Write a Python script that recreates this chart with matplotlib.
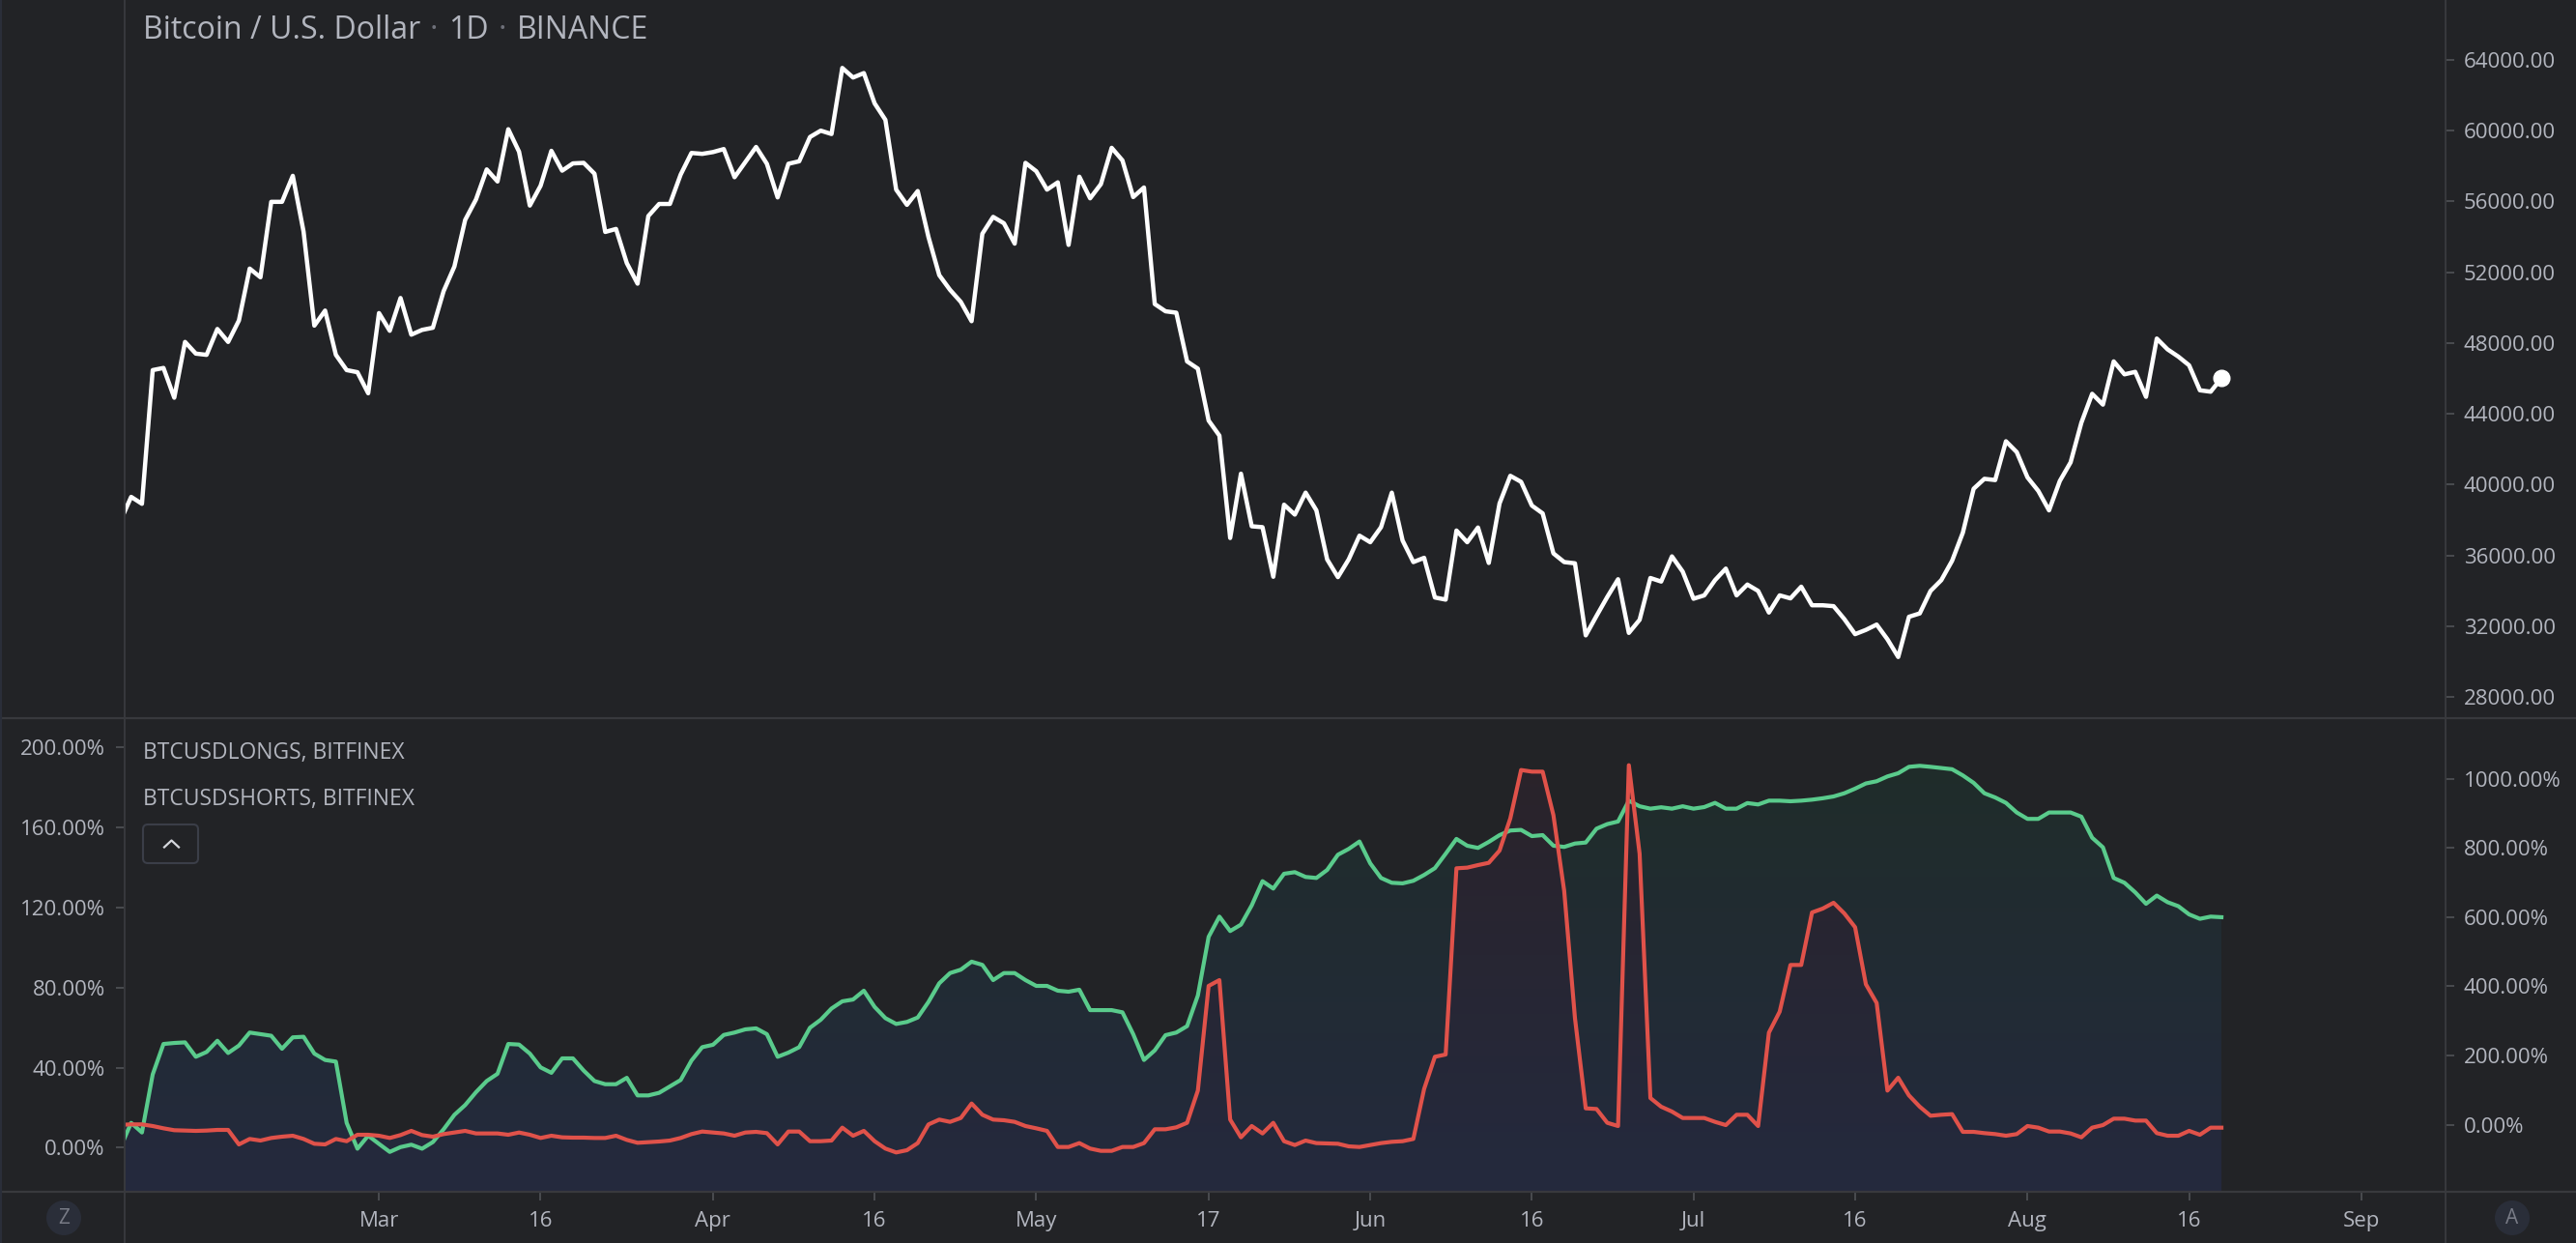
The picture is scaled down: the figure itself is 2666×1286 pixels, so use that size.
import numpy as np
import pandas as pd
import matplotlib
matplotlib.use('Agg')
import matplotlib.pyplot as plt
import matplotlib.dates as mdates
from matplotlib.patches import Polygon, Circle, FancyBboxPatch
from matplotlib.lines import Line2D
from matplotlib.transforms import IdentityTransform
from matplotlib.ticker import FuncFormatter

plt.rcParams['font.family'] = ['Open Sans', 'DejaVu Sans']

# ---- data (daily, starting 2021-02-05) ----
start_date = '2021-02-05'

price = [
    37950, 39310, 38920, 46470, 46590, 44910, 48060, 47400, 47330, 48790,
    48060, 49270, 52200, 51710, 55970, 55970, 57440, 54290, 48980, 49830,
    47330, 46470, 46350, 45160, 49690, 48690, 50540, 48470, 48740, 48860,
    50930, 52320, 54950, 56100, 57800, 57120, 60070, 58800, 55760, 56880,
    58850, 57730, 58140, 58170, 57560, 54270, 54440, 52510, 51350, 55170,
    55850, 55850, 57510, 58730, 58680, 58780, 58950, 57360, 58220, 59070,
    58120, 56220, 58120, 58260, 59630, 59990, 59800, 63530, 62990, 63240,
    61530, 60600, 56660, 55800, 56580, 53980, 51830, 51000, 50320, 49230,
    54170, 55120, 54760, 53610, 58170, 57700, 56660, 57070, 53540, 57390,
    56170, 56970, 59020, 58310, 56240, 56780, 50200, 49790, 49710, 46960,
    46550, 43620, 42770, 36990, 40620, 37650, 37600, 34800, 38870, 38310,
    39550, 38550, 35780, 34780, 35780, 37120, 36750, 37600, 39550, 36850,
    35630, 35870, 33630, 33510, 37410, 36750, 37580, 35580, 38940, 40500,
    40160, 38820, 38380, 36120, 35630, 35560, 31490, 32590, 33660, 34660,
    31630, 32370, 34730, 34530, 35950, 35090, 33560, 33750, 34610, 35260,
    33750, 34360, 34000, 32780, 33750, 33580, 34240, 33190, 33190, 33140,
    32410, 31560, 31800, 32100, 31270, 30270, 32540, 32730, 34000, 34610,
    35700, 37290, 39770, 40330, 40260, 42450, 41840, 40410, 39650, 38550,
    40210, 41260, 43500, 45130, 44520, 46960, 46230, 46370, 44960, 48250,
    47640, 47230, 46740, 45330, 45250, 46010]

longs = [
    0, 12.4, 7.6, 36.6, 51.8, 52.3, 52.6, 45.4, 47.8, 53.4,
    47.3, 51.0, 57.5, 56.7, 55.9, 49.4, 55.1, 55.4, 47.0, 43.8,
    43.0, 12.4, -0.5, 6.0, 1.9, -2.1, 0.3, 1.5, -0.5, 2.8,
    9.2, 16.4, 21.3, 27.7, 33.3, 36.9, 51.8, 51.5, 47.0, 40.1,
    37.4, 44.6, 44.6, 38.5, 33.3, 31.7, 31.7, 34.9, 26.1, 26.1,
    27.4, 30.6, 33.8, 43.5, 50.2, 51.4, 56.3, 57.5, 59.1, 59.6,
    56.7, 45.4, 47.5, 50.2, 59.9, 63.9, 69.5, 73.1, 74.0, 78.4,
    70.3, 64.7, 61.8, 62.8, 65.0, 72.8, 82.1, 87.2, 88.9, 92.9,
    91.3, 83.7, 87.2, 87.2, 83.7, 80.8, 80.8, 78.4, 77.9, 78.9,
    68.7, 68.7, 68.7, 67.6, 56.7, 43.8, 48.6, 56.2, 57.5, 60.7,
    76.0, 105.3, 115.4, 108.2, 111.4, 121.0, 133.1, 129.4, 136.8, 137.6,
    135.2, 134.7, 138.7, 146.3, 149.2, 152.9, 142.0, 134.7, 132.3, 132.0,
    133.3, 136.2, 139.6, 146.8, 154.2, 150.8, 149.7, 152.7, 156.1, 158.4,
    158.7, 155.6, 156.1, 150.8, 150.2, 151.9, 152.4, 159.3, 161.6, 162.9,
    173.3, 170.5, 169.3, 170.0, 169.3, 170.5, 169.3, 170.1, 172.2, 169.3,
    169.3, 172.1, 171.4, 173.3, 173.3, 173.0, 173.3, 173.8, 174.5, 175.4,
    177.0, 179.3, 181.9, 183.0, 185.4, 187.0, 190.2, 190.7, 190.2, 189.6,
    189.0, 185.9, 182.2, 177.0, 174.9, 172.2, 167.4, 164.2, 164.2, 167.4,
    167.4, 167.4, 165.3, 154.8, 150.0, 134.7, 132.3, 127.5, 121.8, 125.9,
    122.6, 120.6, 116.5, 114.3, 115.4, 115.1]

shorts = [
    0, 1.5, 1.5, -3.3, -9.9, -15.4, -16.4, -17.3, -16.4, -14.5,
    -14.5, -56.4, -40.6, -45.2, -37.8, -34.0, -31.3, -40.6, -54.5, -56.4,
    -40.6, -47.1, -28.5, -28.5, -31.3, -37.8, -29.4, -17.3, -29.4, -34.0,
    -26.6, -22.0, -17.3, -24.7, -24.7, -24.7, -28.5, -22.0, -28.5, -37.8,
    -31.3, -35.9, -36.8, -36.8, -37.8, -37.8, -31.3, -43.3, -51.7, -49.9,
    -48.0, -45.2, -37.8, -26.6, -19.2, -22.0, -24.7, -31.3, -22.0, -20.1,
    -23.8, -56.4, -19.2, -19.2, -47.1, -47.1, -45.2, -8.0, -31.3, -17.3,
    -47.1, -68.4, -79.6, -73.1, -52.6, 1.3, 15.3, 8.7, 19.9, 61.7,
    29.2, 15.3, 13.4, 8.7, -3.3, -9.9, -17.3, -63.8, -63.8, -52.6,
    -68.4, -75.0, -75.0, -63.8, -63.8, -52.6, -12.7, -12.7, -7.1, 6.0,
    99.0, 401.3, 418.1, 15.3, -35.9, -3.3, -24.7, 6.0, -47.1, -58.2,
    -45.2, -52.6, -53.6, -54.5, -62.0, -63.8, -58.2, -52.6, -48.9, -47.1,
    -40.6, 103.7, 196.7, 203.2, 740.9, 742.8, 750.2, 756.7, 792.1, 885.1,
    1024.7, 1020.0, 1020.0, 894.4, 675.8, 308.3, 47.8, 45.9, 6.0, -3.3,
    1038.6, 782.8, 77.6, 52.5, 38.5, 19.9, 19.9, 19.9, 8.7, -0.6,
    29.2, 29.2, -3.3, 266.4, 326.9, 461.8, 461.8, 613.4, 624.6, 641.4,
    610.6, 570.7, 406.0, 352.0, 99.0, 136.2, 85.0, 52.5, 26.4, 29.2,
    31.1, -20.1, -20.1, -23.8, -26.6, -31.3, -26.6, -3.3, -8.0, -19.2,
    -19.2, -24.7, -35.9, -8.0, -0.6, 17.9, 17.9, 12.4, 12.4, -23.8,
    -31.3, -31.3, -17.3, -28.5, -8.0, -8.0]

price_ticks = list(range(28000, 64001, 4000))
longs_ticks = [0, 40, 80, 120, 160, 200]
shorts_ticks = [0, 200, 400, 600, 800, 1000]
x_tick_dates = ['2021-03-01', '2021-03-16', '2021-04-01', '2021-04-16', '2021-05-01',
                '2021-05-17', '2021-06-01', '2021-06-16', '2021-07-01', '2021-07-16',
                '2021-08-01', '2021-08-16', '2021-09-01']
x_tick_labels = ['Mar', '16', 'Apr', '16', 'May', '17', 'Jun', '16', 'Jul', '16',
                 'Aug', '16', 'Sep']

# ---- style ----
W, H = 2666, 1286
BG = '#222326'
TXT = '#b2b5be'
TICK = '#4a4c50'
SEPC = '#38393d'
GREEN = '#5acb8c'
RED = '#e0524a'


def fx(px):
    return px / W


def fy(py):
    return 1 - py / H


fig = plt.figure(figsize=(W / 100, H / 100), dpi=100, facecolor=BG)

L, R = 129, 2531
SEP, BOT = 742.8, 1232.7

ax1 = fig.add_axes([fx(L), fy(SEP), fx(R) - fx(L), 1 - fy(SEP)])
ax2 = fig.add_axes([fx(L), fy(BOT), fx(R) - fx(L), fy(SEP) - fy(BOT)])
ax3 = ax2.twinx()

dates = pd.date_range(start_date, periods=len(price), freq='D')
xd = mdates.date2num(dates)
xlim = (xd[0] + 0.395, xd[0] + 215.8)

for ax in (ax1, ax2, ax3):
    ax.set_facecolor(BG)
    for s in ax.spines.values():
        s.set_visible(False)
    ax.set_xlim(*xlim)
ax3.patch.set_visible(False)

# ---- top pane: price ----
ax1.plot(xd, price, color='white', lw=3.2, solid_joinstyle='round', zorder=3)
ax1.plot(xd[-1], price[-1], 'o', color='white', ms=12, zorder=4)
ax1.set_ylim(26827, 67367)
ax1.set_xticks([])
ax1.yaxis.tick_right()
ax1.set_yticks(price_ticks)
ax1.yaxis.set_major_formatter(FuncFormatter(lambda v, p: '%.2f' % v))
ax1.tick_params(axis='y', direction='out', length=6.5, width=1.4, color=TICK,
                labelcolor=TXT, labelsize=16, pad=7)

# ---- lower pane: longs / shorts ----
L_LIM = (-21.87, 214.6)
S_LIM = (-192.3, 1175)
ax2.set_ylim(*L_LIM)
ax3.set_ylim(*S_LIM)


def gradient_fill(ax, x, y, base, top_rgb, bot_rgb, trans, z):
    verts = [(x[0], base)] + list(zip(x, y)) + [(x[-1], base)]
    poly = Polygon(verts, closed=True, transform=trans, facecolor='none', edgecolor='none')
    t = np.linspace(0, 1, 256)[:, None]
    top = np.array(top_rgb) / 255.0
    bot = np.array(bot_rgb) / 255.0
    img = (top[None, None, :] * (1 - t[..., None]) + bot[None, None, :] * t[..., None])
    im = ax.imshow(img, extent=[0, 1, 0, 1], transform=ax.transAxes, aspect='auto',
                   origin='upper', interpolation='bilinear', zorder=z)
    im.set_clip_path(poly)


gradient_fill(ax2, xd, longs, L_LIM[0], (31, 45, 40), (36, 42, 62), ax2.transData, 1)
gradient_fill(ax2, xd, shorts, S_LIM[0], (43, 34, 40), (36, 42, 62), ax3.transData, 1.5)
ax2.set_xlim(*xlim)
ax2.set_ylim(*L_LIM)

ax2.plot(xd, longs, color=GREEN, lw=3, solid_joinstyle='round', zorder=3)
ax3.plot(xd, shorts, color=RED, lw=3, solid_joinstyle='round', zorder=3)
ax3.set_ylim(*S_LIM)
ax3.set_xlim(*xlim)

ax2.set_yticks(longs_ticks)
ax2.yaxis.set_major_formatter(FuncFormatter(lambda v, p: '%.2f%%' % v))
ax2.tick_params(axis='y', direction='out', length=6.5, width=1.4, color=TICK,
                labelcolor=TXT, labelsize=16, pad=8)
ax3.set_yticks(shorts_ticks)
ax3.yaxis.set_major_formatter(FuncFormatter(lambda v, p: '%.2f%%' % v))
ax3.tick_params(axis='y', direction='out', length=6.5, width=1.4, color=TICK,
                labelcolor=TXT, labelsize=16, pad=7)

ax2.set_xticks(mdates.date2num(pd.to_datetime(x_tick_dates)))
ax2.set_xticklabels(x_tick_labels)
ax2.tick_params(axis='x', direction='out', length=6.5, width=1.4, color=TICK,
                labelcolor=TXT, labelsize=16, pad=8)
ax3.tick_params(axis='x', bottom=False, labelbottom=False)

# ---- separators ----
for xpx in (L, R):
    fig.add_artist(Line2D([fx(xpx), fx(xpx)], [0, 1], color=SEPC, lw=1.4,
                          transform=fig.transFigure))
for ypx in (SEP, BOT):
    fig.add_artist(Line2D([0, 1], [fy(ypx), fy(ypx)], color=SEPC, lw=1.6,
                          transform=fig.transFigure))
fig.add_artist(Line2D([fx(1), fx(1)], [0, 1], color='#2a2e39', lw=1.5,
                      transform=fig.transFigure))

# ---- texts ----
renderer = fig.canvas.get_renderer()
xpos = 148
parts = [('Bitcoin / U.S. Dollar', TXT), ('·', '#6e7079'), ('1D', TXT),
         ('·', '#6e7079'), ('BINANCE', TXT)]
for s, c in parts:
    if s == '·':
        t = fig.text(fx(xpos + 14), fy(39.5), s, color=c, fontsize=23,
                     ha='center', va='baseline')
        xpos += 29
    else:
        t = fig.text(fx(xpos), fy(39.5), s, color=c, fontsize=23,
                     ha='left', va='baseline')
        xpos += t.get_window_extent(renderer).width

fig.text(fx(148), fy(784.5), 'BTCUSDLONGS, BITFINEX', color=TXT, fontsize=16.5,
         ha='left', va='baseline')
fig.text(fx(148), fy(832.8), 'BTCUSDSHORTS, BITFINEX', color=TXT, fontsize=16.5,
         ha='left', va='baseline')

# collapse button
btn = FancyBboxPatch((148, H - 893), 57, 40, boxstyle='round,pad=0,rounding_size=5',
                     facecolor=BG, edgecolor='#3b3e48', lw=1.5, transform=IdentityTransform())
fig.add_artist(btn)
fig.add_artist(Line2D([170, 177.5, 185], [H - 876.5, H - 869.5, H - 876.5],
                      color='#d6d8de', lw=1.6, transform=IdentityTransform()))

# bottom corner badges
for cx, letter in ((66, 'Z'), (2600, 'A')):
    fig.add_artist(Circle((cx, H - 1260), 18, facecolor='#2a2e39', edgecolor='none',
                          transform=IdentityTransform()))
    fig.text(fx(cx), fy(1260), letter, color='#787b86', fontsize=15,
             ha='center', va='center')

fig.savefig('out.png', dpi=100, facecolor=BG)
